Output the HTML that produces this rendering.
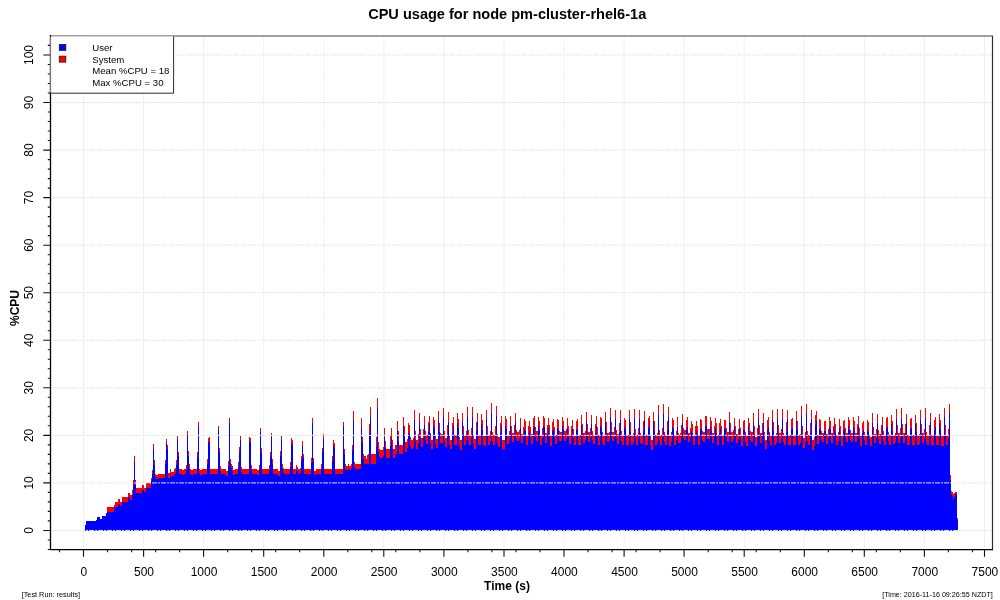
<!DOCTYPE html><html><head><meta charset="utf-8"><title>CPU usage for node pm-cluster-rhel6-1a</title>
<style>html,body{margin:0;padding:0;background:#fff}body{width:1000px;height:600px;overflow:hidden}svg{display:block}text{font-family:"Liberation Sans",Arial,Helvetica,sans-serif;fill:#000}</style></head><body>
<svg width="1000" height="600" viewBox="0 0 1000 600">
<rect width="1000" height="600" fill="#fff"/>
<path d="M143.56,36V549M203.63,36V549M263.69,36V549M383.82,36V549M443.89,36V549M503.95,36V549M624.09,36V549M684.15,36V549M744.22,36V549M864.35,36V549M924.41,36V549M984.48,36V549" stroke="#f0f0f0" stroke-width="1" fill="none"/>
<path d="M83.50,36V549M323.76,36V549M564.02,36V549M804.28,36V549" stroke="#ebebeb" stroke-width="1" stroke-dasharray="2 1" fill="none"/>
<path d="M85,525H86V521H96V520H97V517H100V519H102V516H106V512.5H107V512H114V507H118V504H120V506H122V502H128V497H130V500H132V495H133V485H134V461H135V484.5H136V493H142V490H144V492H146V488H151V481H152V474H153V449H154V465H155V477H156V478.5H158V478H165V464H166V443H167V449H168V478H170V474H171V477H172V476H174V474H175V473H176V465H177V440H178V456H179V474H182V475H184V474H186V470H187V436H188V456H189V469H190V474H191V475H193V474H197V457H198V427H199V473H200V475H202V474H207V464H208V442H210V474H218V430H219V452H220V471H221V474H226V476H228V466H229V423H230V463H231V468H232V471H233V475H235V474H238V467H239V452H240V440H241V472H242V474H249V441H250V443H251V470H252V474H257V475H259V469H260V432H261V453H262V474H269V470H270V457H271V437H272V464H273V474H278V476H280V456H281V440H282V469H283V473H284V474H290V467H291V443H292V445H293V474H296V470H297V471H298V474H300V473H301V461H302V446H303V458H304V474H311V463H312V423H313V462H314V475H316V474H321V469H322V452H323V439H324V474H332V461H333V445H334V448H335V474H343V426H344V454H345V469H346V470H348V469H349V470H351V468H352V451H353V420H354V467H355V469H361V427H362V443H363V459H364V464H369V434H370V417H371V464H376V447H377V408H378V452H379V457H380V458H383V456H384V437H385V448H386V458H390V446H391V438H392V449H393V457.5H395V454H397V431H398V441H399V454H403V426H404V435H405V452H407V448H408V433H409V434H410V446H411V449H413V447H414V420H415V441H416V449H418V443H419V422H420V438H421V447H423V438H424V425H425V440H426V444H428V432H429V424H430V443H431V449H433V426H434V429H435V444H436V448H438V421H439V432H440V443H443V417H444V441H445V447H447V435H448V422H449V445H450V449H452V433H453V426H454V445H457V423H458V428H459V446H460V450H462V422H463V435H464V445H466V440H467V417H468V440H469V445H471V438H472V417H473V444H474V449H476V431H477V422H478V445H481V424H482V430H483V445H484V446H486V419H487V435H488V445H490V441H491V413H492V442H493V445H495V436H496V416H497V443H498V447H500V433H501V426H502V450H503V449H505V426H506V429H507V444H509V441H510V426H511V435H512V442H514V434H515V422H516V439H517V441H518V440.5H519V439H520V428H521V443H523V437H524V429H525V431H526V445H528V435H529V431H530V437H531V444H533V428H534V426H535V437H536V441H538V426H539V430H540V445H542V438H543V426H544V427H545V443H547V435H548V428H549V435H550V446H552V431H553V429H554V437H555V444H557V428H558V430H559V441H562V426H563V430H564V441H566V439H567V428H568V435H569V444H571V436H572V429H573V438H574V445H576V430H577V429H578V445H581V425H582V433H583V443H585V440H586V421H587V433H588V442H590V437H591V424H592V440H593V444H595V433H596V426H597V436H598V445H600V426H601V428H602V442H603V445H605V422H606V433H607V442H609V441H610V417H611V432H612V441H614V437H615V419H616V438H617V444H619V432H620V420H621V441H622V445H624V427H625V429H626V445H629V419H630V432H631V445H633V442H634V418H635V438H636V445H638V437H639V419H640V443H641V444H643V431H644V420H645V445H648V428H649V426H650V445H651V450H653V421H654V431H655V445H657V442H658V415H659V440H660V445H662V437H663V414H664V442H665V445H667V430H668V417H669V446H671V442H672V427H673V429H674V445H676V440H677V427H678V443H681V435H682V423H683V438H684V440H686V430H687V427H688V442H690V437H691V431H692V433H693V445H695V436H696V431H697V435H698V445H700V429H702V440H703V442H705V426H707V439H710V427H711V431H712V443H714V436H715V428H716V433H717V445H719V433H720V428H721V435H722V445H724V429H726V437H727V442H729V422H730V433H731V442H733V439H734V427H735V436H736V443H738V439H739V429H740V437H741V446H743V430H745V442H746V446H748V427H749V433H750V440H751V442H753V423H754V436H755V446H757V438H758V418H759V435H760V443H762V433H763V423H764V441H765V449H767V430H768V427H769V441H770V445H772V420H773V431H774V445H776V443H777V419H778V434H779V443H781V438H782V418H783V442H784V445H786V432H787V419H788V445H791V429H792V428H793V445H796V421H797V430H798V445H800V443H801V416H802V435H803V448H805V442H806V413H807V441H808V445H810V433H811V419H812V450H814V446H815V425H816V421H817V444H819V429H821V440H822V442H824V431H826V444H828V438H829V427H830V430H831V443H833V435H834V428H835V433H836V445H838V441H839V428H840V436H841V446H843V430H844V429H845V437H846V442H848V426H849V430H850V440H851V442H853V427H854V431H855V442H857V433H858V426H859V437H860V446H862V433H863V430H864V440H865V445H867V430H868V432H869V439H870V446H872V423H873V436H874V443H876V438H877V423H878V439H879V444H881V434H882V426H883V441H884V445H886V428H887V427H888V441H889V445H891V424H892V431H893V444H895V442H896V419H897V435H898V443H900V438H901V418H902V434H903V443H905V433H906V423H907V445H910V429H911V428H912V445H915V424H916V432H917V445H919V444H920V420H921V434H922V443H924V439H925V418H926V442H927V445H929V434H930V422H931V445H934V430H935V427H936V445H939V423H940V429H941V446H944V417H945V435H946V445H948V439H949V413H950V480H951V494H952V495.5H953V499H954V497H955V494H957V520H958V530.6H85Z" fill="#0000ff" shape-rendering="crispEdges"/>
<path d="M85,525H86V521H96V520H97V517H100V519H102V516H106V512.5H107V507H114V505H115V502H118V499H120V501.5H122V497H128V493H130V495H132V490H133V480H134V456H135V480H136V488H142V485H144V487.5H146V483H151V478H152V470H153V444H154V460H155V474H156V475H158V474H165V460H166V439H167V445H168V473H170V469H171V472H174V469H175V468H176V460H177V436H178V452H179V469H182V470H184V469H186V465H187V431H188V451H189V464H190V469H191V470H193V469H197V452H198V422H199V469H200V470H202V469H207V459H208V438H209V437H210V469H218V426H219V448H220V466H221V469H226V471H228V461H229V418H230V459H231V464H232V466H233V470H235V469H238V462H239V447H240V436H241V467H242V469H249V437H250V438H251V465H252V469H257V470H259V465H260V428H261V448H262V469H269V465H270V452H271V433H272V459H273V469H278V471H280V451H281V436H282V464H283V468H284V469H290V462H291V438H292V440H293V469H296V465H297V467H298V469H300V468H301V456H302V441H303V454H304V469H311V458H312V418H313V458H314V471H316V469H321V464H322V448H323V434H324V469H332V456H333V440H334V443H335V469H343V422H344V449H345V464H346V466H348V464H349V466H351V464H352V445H353V411H354V462H355V464H361V418H362V437H363V454H364V456H366V459H367V455H368V454H369V424H370V407H371V454H376V437H377V398H378V442H379V449H380V450H383V447H384V428H385V441H386V449H390V436H391V428H392V440H393V449H395V445H397V421H398V431H399V445H403V417H404V426H405V442H407V439H408V423H409V425H410V437H411V440H413V438H414V410H415V431H416V440H418V434H419V413H420V429H421V438H423V429H424V416H425V431H426V435H428V422H429V416H430V433H431V440H433V417H434V420H435V436H436V439H438V411H439V423H440V433H441V434H443V408H444V431H445V438H447V425H448V412H449V436H450V440H452V423H453V417H454V435H457V413H458V419H459V437H460V440H462V413H463V426H464V436H466V431H467V407H468V430H469V435H471V428H472V407H473V435H474V439H476V422H477V413H478V435H481V414H482V420H483V435H484V436H486V410H487V426H488V435H490V431H491V403H492V432H493V435H495V426H496V406H497V434H498V437H500V423H501V416H502V440H505V416H506V419H507V436H509V431H510V416H511V426H512V433H514V425H515V413H516V430H517V432H519V430H520V418H521V434H523V427H524V419H525V421H526V436H528V426H529V421H530V427H531V434H533V418H534V416H535V427H536V431H538V417H539V421H540V435H542V428H543V416H544V418H545V433H547V425H548V418H549V425H550V436H552V422H553V419H554V427H555V435H557V419H558V420H559V431H560V432H562V417H563V421H564V431H566V429H567V418H568V426H569V435H571V426H572V420H573V429H574V436H576V421H577V419H578V435H581V415H582V424H583V433H585V431H586V412H587V424H588V432H590V428H591V415H592V431H593V435H595V424H596V416H597V427H598V435H600V417H601V418H602V432H603V435H605V412H606V422H607V433H609V432H610V408H611V422H612V432H614V427H615V410H616V430H617V434H619V423H620V410H621V431H622V435H624V418H625V420H626V435H629V410H630V422H631V435H633V433H634V409H635V429H636V435H638V428H639V410H640V433H641V435H643V421H644V411H645V435H648V418H649V416H650V436H651V440H653V412H654V421H655V435H657V433H658V405H659V430H660V435H662V428H663V404H664V432H665V435H667V421H668V407H669V436H671V432H672V418H673V420H674V435H676V431H677V417H678V433H679V435H680V433H681V425H682V414H683V428H684V430H686V420H687V417H688V433H690V428H691V421H692V424H693V435H695V426H696V421H697V426H698V435H700V419H701V420H702V431H703V432H705V416H707V429H710V417H711V421H712V433H714V426H715V418H716V423H717V435H719V423H720V419H721V426H722V435H724V420H726V428H727V432H729V412H730V423H731V432H733V430H734V418H735V426H736V434H738V429H739V419H740V428H741V436H743V421H744V420H745V432H746V436H748V418H749V423H750V431H751V432H753V413H754V426H755V437H757V428H758V409H759V425H760V433H762V423H763V413H764V432H765V440H767V420H768V417H769V432H770V436H772V410H773V422H774V436H776V433H777V409H778V425H779V433H781V429H782V409H783V433H784V436H786V422H787V410H788V435H791V419H792V418H793V435H796V411H797V421H798V435H800V434H801V406H802V426H803V438H805V432H806V404H807V431H808V435H810V423H811V410H812V440H814V437H815V415H816V411H817V435H819V419H820V420H821V431H822V433H824V421H826V434H828V429H829V417H830V421H831V433H833V426H834V418H835V424H836V435H838V432H839V419H840V426H841V436H843V421H844V420H845V428H846V433H848V417H849V420H850V430H851V433H853V417H854V421H855V433H857V424H858V416H859V428H860V436H862V423H863V421H864V432H865V436H867V420H868V422H869V435H870V437H872V413H873V427H874V434H876V429H877V414H878V430H879V434H881V425H882V417H883V431H884V435H886V418H887V417H888V432H889V435H891V415H892V421H893V435H895V433H896V409H897V425H898V433H900V428H901V408H902V424H903V433H905V424H906V414H907V435H910V419H911V418H912V435H915V415H916V423H917V435H919V434H920V410H921V424H922V433H924V429H925V408H926V432H927V435H929V425H930V413H931V435H934V420H935V417H936V435H939V414H940V420H941V436H944V408H945V425H946V435H948V429H949V404H950V475H951V491H952V492H953V493.5H954V492.5H955V491.5H957V518H958V520H957V494H955V497H954V499H953V495.5H952V494H951V480H950V413H949V439H948V445H946V435H945V417H944V446H941V429H940V423H939V445H936V427H935V430H934V445H931V422H930V434H929V445H927V442H926V418H925V439H924V443H922V434H921V420H920V444H919V445H917V432H916V424H915V445H912V428H911V429H910V445H907V423H906V433H905V443H903V434H902V418H901V438H900V443H898V435H897V419H896V442H895V444H893V431H892V424H891V445H889V441H888V427H887V428H886V445H884V441H883V426H882V434H881V444H879V439H878V423H877V438H876V443H874V436H873V423H872V446H870V439H869V432H868V430H867V445H865V440H864V430H863V433H862V446H860V437H859V426H858V433H857V442H855V431H854V427H853V442H851V440H850V430H849V426H848V442H846V437H845V429H844V430H843V446H841V436H840V428H839V441H838V445H836V433H835V428H834V435H833V443H831V430H830V427H829V438H828V444H826V431H824V442H822V440H821V429H819V444H817V421H816V425H815V446H814V450H812V419H811V433H810V445H808V441H807V413H806V442H805V448H803V435H802V416H801V443H800V445H798V430H797V421H796V445H793V428H792V429H791V445H788V419H787V432H786V445H784V442H783V418H782V438H781V443H779V434H778V419H777V443H776V445H774V431H773V420H772V445H770V441H769V427H768V430H767V449H765V441H764V423H763V433H762V443H760V435H759V418H758V438H757V446H755V436H754V423H753V442H751V440H750V433H749V427H748V446H746V442H745V430H743V446H741V437H740V429H739V439H738V443H736V436H735V427H734V439H733V442H731V433H730V422H729V442H727V437H726V429H724V445H722V435H721V428H720V433H719V445H717V433H716V428H715V436H714V443H712V431H711V427H710V439H707V426H705V442H703V440H702V429H700V445H698V435H697V431H696V436H695V445H693V433H692V431H691V437H690V442H688V427H687V430H686V440H684V438H683V423H682V435H681V443H678V427H677V440H676V445H674V429H673V427H672V442H671V446H669V417H668V430H667V445H665V442H664V414H663V437H662V445H660V440H659V415H658V442H657V445H655V431H654V421H653V450H651V445H650V426H649V428H648V445H645V420H644V431H643V444H641V443H640V419H639V437H638V445H636V438H635V418H634V442H633V445H631V432H630V419H629V445H626V429H625V427H624V445H622V441H621V420H620V432H619V444H617V438H616V419H615V437H614V441H612V432H611V417H610V441H609V442H607V433H606V422H605V445H603V442H602V428H601V426H600V445H598V436H597V426H596V433H595V444H593V440H592V424H591V437H590V442H588V433H587V421H586V440H585V443H583V433H582V425H581V445H578V429H577V430H576V445H574V438H573V429H572V436H571V444H569V435H568V428H567V439H566V441H564V430H563V426H562V441H559V430H558V428H557V444H555V437H554V429H553V431H552V446H550V435H549V428H548V435H547V443H545V427H544V426H543V438H542V445H540V430H539V426H538V441H536V437H535V426H534V428H533V444H531V437H530V431H529V435H528V445H526V431H525V429H524V437H523V443H521V428H520V439H519V440.5H518V441H517V439H516V422H515V434H514V442H512V435H511V426H510V441H509V444H507V429H506V426H505V449H503V450H502V426H501V433H500V447H498V443H497V416H496V436H495V445H493V442H492V413H491V441H490V445H488V435H487V419H486V446H484V445H483V430H482V424H481V445H478V422H477V431H476V449H474V444H473V417H472V438H471V445H469V440H468V417H467V440H466V445H464V435H463V422H462V450H460V446H459V428H458V423H457V445H454V426H453V433H452V449H450V445H449V422H448V435H447V447H445V441H444V417H443V443H440V432H439V421H438V448H436V444H435V429H434V426H433V449H431V443H430V424H429V432H428V444H426V440H425V425H424V438H423V447H421V438H420V422H419V443H418V449H416V441H415V420H414V447H413V449H411V446H410V434H409V433H408V448H407V452H405V435H404V426H403V454H399V441H398V431H397V454H395V457.5H393V449H392V438H391V446H390V458H386V448H385V437H384V456H383V458H380V457H379V452H378V408H377V447H376V464H371V417H370V434H369V464H364V459H363V443H362V427H361V469H355V467H354V420H353V451H352V468H351V470H349V469H348V470H346V469H345V454H344V426H343V474H335V448H334V445H333V461H332V474H324V439H323V452H322V469H321V474H316V475H314V462H313V423H312V463H311V474H304V458H303V446H302V461H301V473H300V474H298V471H297V470H296V474H293V445H292V443H291V467H290V474H284V473H283V469H282V440H281V456H280V476H278V474H273V464H272V437H271V457H270V470H269V474H262V453H261V432H260V469H259V475H257V474H252V470H251V443H250V441H249V474H242V472H241V440H240V452H239V467H238V474H235V475H233V471H232V468H231V463H230V423H229V466H228V476H226V474H221V471H220V452H219V430H218V474H210V442H208V464H207V474H202V475H200V473H199V427H198V457H197V474H193V475H191V474H190V469H189V456H188V436H187V470H186V474H184V475H182V474H179V456H178V440H177V465H176V473H175V474H174V476H172V477H171V474H170V478H168V449H167V443H166V464H165V478H158V478.5H156V477H155V465H154V449H153V474H152V481H151V488H146V492H144V490H142V493H136V484.5H135V461H134V485H133V495H132V500H130V497H128V502H122V506H120V504H118V507H114V512H107V512.5H106V516H102V519H100V517H97V520H96V521H86V525H85Z" fill="#ff0000" shape-rendering="crispEdges"/>
<path d="M51,530.45H992M51,482.90H992M51,435.35H992M51,387.80H992M51,340.25H992M51,292.70H992M51,245.15H992M51,197.60H992M51,150.05H992M51,102.50H992M51,54.95H992" stroke="#e7e7e7" stroke-width="1" stroke-dasharray="5 1 2 1" stroke-dashoffset="6.9" fill="none"/>
<path d="M50,36H993" stroke="#808080" stroke-width="1.6" fill="none"/>
<path d="M992.5,36V550" stroke="#303030" stroke-width="1.2" fill="none"/>
<path d="M50.5,35V550" stroke="#000" stroke-width="1.3" fill="none"/>
<path d="M50,549.7H993" stroke="#000" stroke-width="1.3" fill="none"/>
<path d="M47.8,549.5H50M47.8,540.0H50M43.3,530.5H50M47.8,520.9H50M47.8,511.4H50M47.8,501.9H50M47.8,492.4H50M43.3,482.9H50M47.8,473.4H50M47.8,463.9H50M47.8,454.4H50M47.8,444.9H50M43.3,435.4H50M47.8,425.8H50M47.8,416.3H50M47.8,406.8H50M47.8,397.3H50M43.3,387.8H50M47.8,378.3H50M47.8,368.8H50M47.8,359.3H50M47.8,349.8H50M43.3,340.3H50M47.8,330.7H50M47.8,321.2H50M47.8,311.7H50M47.8,302.2H50M43.3,292.7H50M47.8,283.2H50M47.8,273.7H50M47.8,264.2H50M47.8,254.7H50M43.3,245.2H50M47.8,235.6H50M47.8,226.1H50M47.8,216.6H50M47.8,207.1H50M43.3,197.6H50M47.8,188.1H50M47.8,178.6H50M47.8,169.1H50M47.8,159.6H50M43.3,150.1H50M47.8,140.5H50M47.8,131.0H50M47.8,121.5H50M47.8,112.0H50M43.3,102.5H50M47.8,93.0H50M47.8,83.5H50M47.8,74.0H50M47.8,64.5H50M43.3,55.0H50M47.8,45.4H50" stroke="#111" stroke-width="1.1" fill="none"/>
<path d="M59.5,550V552.2M83.5,550V556.7M107.5,550V552.2M131.6,550V552.2M143.6,550V556.7M155.6,550V552.2M179.6,550V552.2M203.6,550V556.7M227.7,550V552.2M251.7,550V552.2M263.7,550V556.7M275.7,550V552.2M299.7,550V552.2M323.8,550V556.7M347.8,550V552.2M371.8,550V552.2M383.8,550V556.7M395.8,550V552.2M419.9,550V552.2M443.9,550V556.7M467.9,550V552.2M491.9,550V552.2M504.0,550V556.7M516.0,550V552.2M540.0,550V552.2M564.0,550V556.7M588.0,550V552.2M612.1,550V552.2M624.1,550V556.7M636.1,550V552.2M660.1,550V552.2M684.1,550V556.7M708.2,550V552.2M732.2,550V552.2M744.2,550V556.7M756.2,550V552.2M780.3,550V552.2M804.3,550V556.7M828.3,550V552.2M852.3,550V552.2M864.3,550V556.7M876.4,550V552.2M900.4,550V552.2M924.4,550V556.7M948.4,550V552.2M972.5,550V552.2M984.5,550V556.7" stroke="#111" stroke-width="1.1" fill="none"/>
<text x="83.9" y="576" font-size="12" text-anchor="middle">0</text>
<text x="144.0" y="576" font-size="12" text-anchor="middle">500</text>
<text x="204.0" y="576" font-size="12" text-anchor="middle">1000</text>
<text x="264.1" y="576" font-size="12" text-anchor="middle">1500</text>
<text x="324.2" y="576" font-size="12" text-anchor="middle">2000</text>
<text x="384.2" y="576" font-size="12" text-anchor="middle">2500</text>
<text x="444.3" y="576" font-size="12" text-anchor="middle">3000</text>
<text x="504.4" y="576" font-size="12" text-anchor="middle">3500</text>
<text x="564.4" y="576" font-size="12" text-anchor="middle">4000</text>
<text x="624.5" y="576" font-size="12" text-anchor="middle">4500</text>
<text x="684.5" y="576" font-size="12" text-anchor="middle">5000</text>
<text x="744.6" y="576" font-size="12" text-anchor="middle">5500</text>
<text x="804.7" y="576" font-size="12" text-anchor="middle">6000</text>
<text x="864.7" y="576" font-size="12" text-anchor="middle">6500</text>
<text x="924.8" y="576" font-size="12" text-anchor="middle">7000</text>
<text x="984.9" y="576" font-size="12" text-anchor="middle">7500</text>
<text transform="translate(33.0,530.5) rotate(-90)" font-size="12" text-anchor="middle">0</text>
<text transform="translate(33.0,482.9) rotate(-90)" font-size="12" text-anchor="middle">10</text>
<text transform="translate(33.0,435.4) rotate(-90)" font-size="12" text-anchor="middle">20</text>
<text transform="translate(33.0,387.8) rotate(-90)" font-size="12" text-anchor="middle">30</text>
<text transform="translate(33.0,340.3) rotate(-90)" font-size="12" text-anchor="middle">40</text>
<text transform="translate(33.0,292.7) rotate(-90)" font-size="12" text-anchor="middle">50</text>
<text transform="translate(33.0,245.2) rotate(-90)" font-size="12" text-anchor="middle">60</text>
<text transform="translate(33.0,197.6) rotate(-90)" font-size="12" text-anchor="middle">70</text>
<text transform="translate(33.0,150.1) rotate(-90)" font-size="12" text-anchor="middle">80</text>
<text transform="translate(33.0,102.5) rotate(-90)" font-size="12" text-anchor="middle">90</text>
<text transform="translate(33.0,55.0) rotate(-90)" font-size="12" text-anchor="middle">100</text>
<text x="507" y="589.7" font-size="12" font-weight="bold" text-anchor="middle">Time (s)</text>
<text transform="translate(19.2,308) rotate(-90)" font-size="12" font-weight="bold" text-anchor="middle">%CPU</text>
<text x="507.2" y="19" font-size="14.55" font-weight="bold" text-anchor="middle">CPU usage for node pm-cluster-rhel6-1a</text>
<rect x="51" y="36.5" width="122.5" height="56.7" fill="#fff"/>
<path d="M173.6,36.5V93.2H49.5" fill="none" stroke="#2a2a2a" stroke-width="1"/>
<path d="M50.5,36.5V92.7" fill="none" stroke="#777" stroke-width="1.2"/>
<rect x="59.25" y="44.45" width="6.6" height="6" fill="#0000ff" stroke="#1a1a1a" stroke-width="0.75"/>
<rect x="59.25" y="56.15" width="6.6" height="6" fill="#ff0000" stroke="#1a1a1a" stroke-width="0.75"/>
<text x="92.3" y="50.6" font-size="9.6" fill="#111">User</text>
<text x="92.3" y="62.6" font-size="9.6" fill="#111">System</text>
<text x="92.3" y="73.8" font-size="9.6" fill="#111">Mean %CPU = 18</text>
<text x="92.3" y="85.6" font-size="9.6" fill="#111">Max %CPU = 30</text>
<text x="21.7" y="597" font-size="7.3" fill="#222">[Test Run: results]</text>
<text x="992.8" y="597" font-size="7.17" fill="#222" text-anchor="end">[Time: 2016-11-16 09:26:55 NZDT]</text>
</svg></body></html>
